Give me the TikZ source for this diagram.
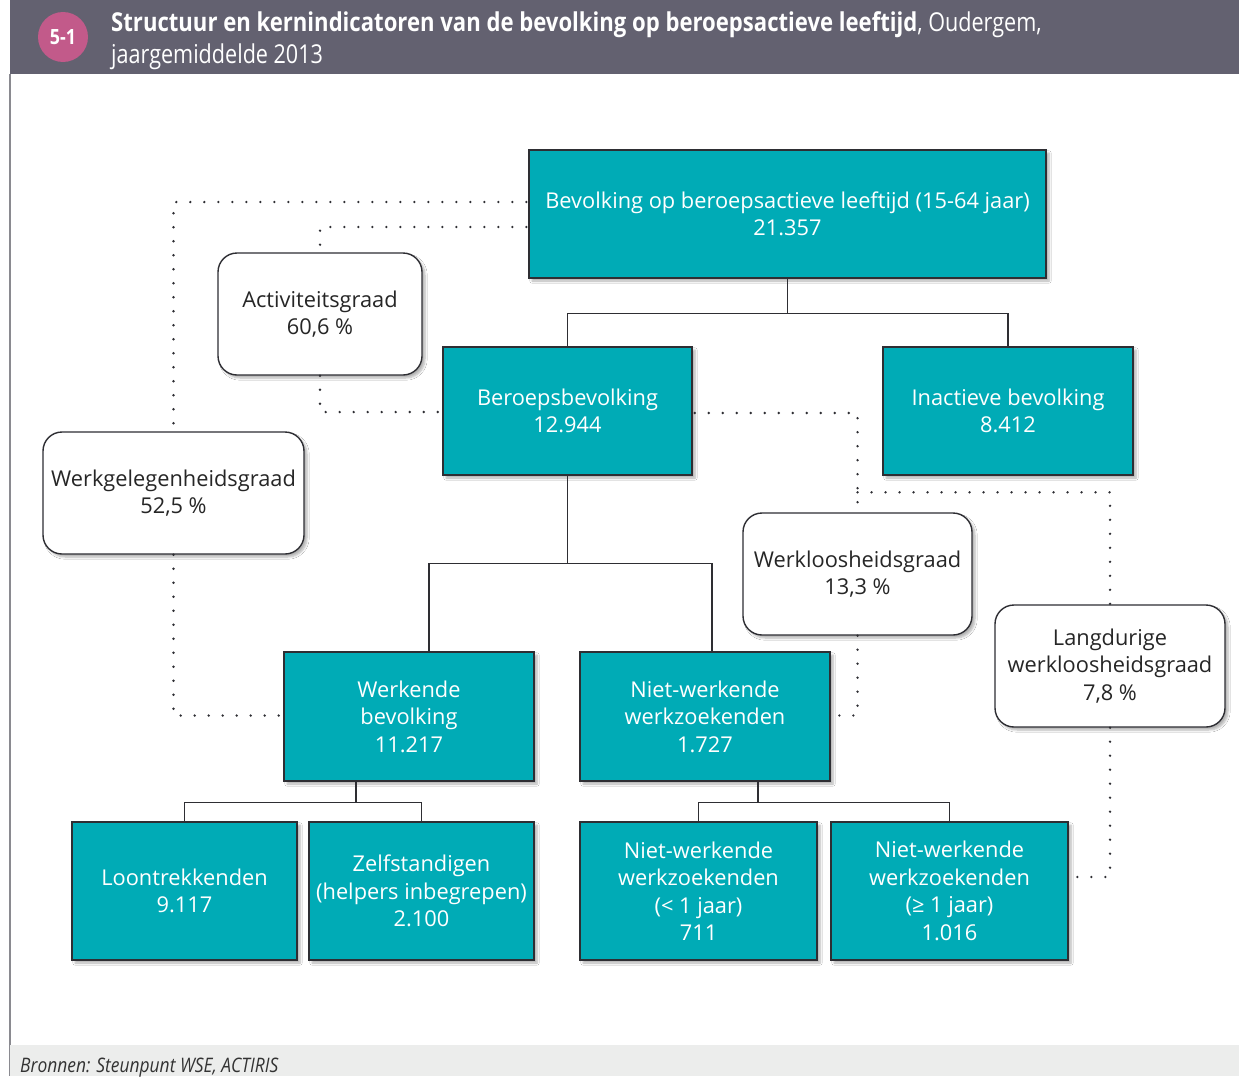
\documentclass[tikz,border=0pt]{standalone}
\usepackage{fontspec}
\setmainfont{Open Sans}
\newfontfamily\condfont[FakeStretch=0.83]{Open Sans}
\newfontfamily\condbold[FakeStretch=0.85]{Open Sans Bold}
\newfontfamily\condital[FakeStretch=0.87]{Open Sans Italic}
\usetikzlibrary{shadows.blur,calc}
\definecolor{tealbox}{HTML}{00ABB6}
\definecolor{edge}{HTML}{2E2E33}
\definecolor{hdr}{HTML}{636170}
\definecolor{badge}{HTML}{C25A8A}
\definecolor{footbg}{HTML}{ECEDEC}
\definecolor{frame}{HTML}{8A8A90}
\begin{document}
\begin{tikzpicture}[x=1pt,y=-1pt,
  boxfont/.style={font=\fontsize{21.8}{27.5}\selectfont},
  tealnode/.style={boxfont,draw=edge,line width=1.4pt,fill=tealbox,text=white,align=center,
    inner sep=0pt,blur shadow={shadow blur steps=6,shadow xshift=3pt,shadow yshift=-3pt,shadow opacity=30}},
  ratenode/.style={boxfont,draw=edge,line width=1.4pt,fill=white,text=black!85,align=center,
    rounded corners=19pt,inner sep=0pt,blur shadow={shadow blur steps=6,shadow xshift=3pt,shadow yshift=-3pt,shadow opacity=30}},
  conn/.style={draw=edge,line width=1.3pt},
  dotline/.style={draw=edge,line width=2.6pt,line cap=round,dash pattern=on 0pt off 14pt},
  sz/.style 2 args={minimum width=#1pt,minimum height=#2pt}
]
\useasboundingbox (0,0) rectangle (1239,1076);
\fill[white] (0,0) rectangle (1239,1076);
% header
\fill[hdr] (10,0) rectangle (1239,74);
\draw[frame,line width=1.5pt] (10,74) -- (10,1076);
\fill[footbg] (10,1045) rectangle (1239,1076);
\fill[badge] (63,37) circle (25);
\node[text=white,font=\condbold\fontsize{21}{24}\selectfont] (badgetxt) at (63,37) {5-1};
\node[anchor=base west,inner sep=0pt,text=white,font=\condfont\fontsize{26}{32}\selectfont] (title1) at (111,31)
  {{\condbold Structuur en kernindicatoren van de bevolking op beroepsactieve leeftijd}, Oudergem,};
\node[anchor=base west,inner sep=0pt,text=white,font=\condfont\fontsize{26}{32}\selectfont] (title2) at (111,63)
  {jaargemiddelde 2013};
\node[anchor=base west,inner sep=0pt,text=black!80,font=\condital\fontsize{20}{24}\selectfont] (source) at (20,1072)
  {Bronnen: Steunpunt WSE, ACTIRIS};

\node[tealnode,sz={517}{128}] (top) at (787.5,214) {Bevolking op beroepsactieve leeftijd (15-64 jaar)\\21.357};
\node[tealnode,sz={249}{128}] (beroeps) at (567.5,411) {Beroepsbevolking\\12.944};
\node[tealnode,sz={250}{128}] (inact) at (1008,411) {Inactieve bevolking\\8.412};
\node[tealnode,sz={250}{129}] (werk) at (409,716.5) {Werkende\\bevolking\\11.217};
\node[tealnode,sz={250}{129}] (nwz) at (705,716.5) {Niet-werkende\\werkzoekenden\\1.727};
\node[tealnode,sz={225}{138}] (loon) at (184.5,891) {Loontrekkenden\\9.117};
\node[tealnode,sz={225}{138}] (zelf) at (421.5,891) {Zelfstandigen\\(helpers inbegrepen)\\2.100};
\node[tealnode,sz={237}{138}] (nw1) at (698.5,891) {Niet-werkende\\werkzoekenden\\(< 1 jaar)\\711};
\node[tealnode,sz={237}{138}] (nw2) at (949.5,891) {Niet-werkende\\werkzoekenden\\(≥ 1 jaar)\\1.016};

\node[ratenode,sz={204}{122}] (act) at (320,314) {Activiteitsgraad\\60,6 \%};
\node[ratenode,sz={261}{122}] (wgh) at (173.5,493) {Werkgelegenheidsgraad\\52,5 \%};
\node[ratenode,sz={229}{122}] (wlg) at (857.5,574) {Werkloosheidsgraad\\13,3 \%};
\node[ratenode,sz={230}{122}] (lang) at (1110,666) {Langdurige\\werkloosheidsgraad\\7,8 \%};

% solid tree connectors
\coordinate (j1) at ($(top.south)+(0,35)$);
\draw[conn] (top.south) -- (j1);
\draw[conn] (beroeps.north) |- (j1) -| (inact.north);
\coordinate (j2) at ($(beroeps.south)+(0,88)$);
\draw[conn] (beroeps.south) -- (j2);
\draw[conn] ($(werk.north)+(20,0)$) |- (j2) -| ($(nwz.north)+(7,0)$);
\coordinate (j3) at ($(werk.south)+(-53,21)$);
\draw[conn] ($(werk.south)+(-53,0)$) -- (j3);
\draw[conn] (loon.north) |- (j3) -| (zelf.north);
\coordinate (j4) at ($(nwz.south)+(53,21)$);
\draw[conn] ($(nwz.south)+(53,0)$) -- (j4);
\draw[conn] (nw1.north) |- (j4) -| (nw2.north);

% dotted indicator connectors
\draw[dotline] ($(top.west)+(-2,-12)$) -| (wgh.north);
\draw[dotline] ($(top.west)+(-2,13)$) -| (act.north);
\draw[dotline] (act.south) |- ($(beroeps.west)+(-2,1)$);
\draw[dotline] (wgh.south) |- ($(werk.west)+(-2,-1)$);
\draw[dotline] ($(beroeps.east)+(2,2)$) -| (wlg.north);
\coordinate (j5) at ($(wlg.north)+(0,-20)$);
\draw[dotline] (j5) -| (lang.north);
\draw[dotline] (wlg.south) |- ($(nwz.east)+(2,-1)$);
\draw[dotline] (lang.south) |- ($(nw2.east)+(2,-14)$);
\end{tikzpicture}
\end{document}
